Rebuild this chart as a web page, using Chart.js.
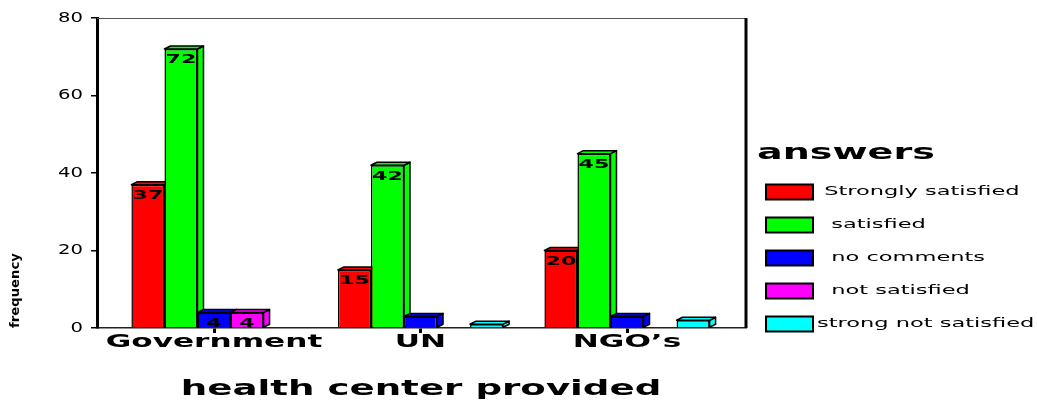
<!DOCTYPE html>
<html><head><meta charset="utf-8">
<script src="https://cdn.jsdelivr.net/npm/chart.js@4.4.0/dist/chart.umd.min.js"></script>
<style>html,body{margin:0;padding:0;background:#fff}#wrap{width:1037px;height:400px;position:relative}</style>
</head><body><div id="wrap"><canvas id="c"></canvas></div>
<script>
const categories = ["Government", "UN", "NGO\u2019s"];
const seriesNames = [" Strongly satisfied", "  satisfied", "  no comments", "  not satisfied", "strong not satisfied"];
const stronglySatisfied = [37, 15, 20];
const satisfied = [72, 42, 45];
const noComments = [4, 3, 3];
const notSatisfied = [4, 0, 0];
const strongNotSatisfied = [0, 1, 2];
const yTicks = [0, 20, 40, 60, 80];
const seriesColors = ["#ff0000", "#00ff00", "#0000ff", "#ff00ff", "#00ffff"];
const xTitle = "health center provided";
const yTitle = "frequency";
const legendTitle = "answers";
const labelMin = 4;

const seriesValues = [stronglySatisfied, satisfied, noComments, notSatisfied, strongNotSatisfied];

Chart.defaults.font.family = '"DejaVu Sans"';

function stretched(ctx, sx, fn) {
  const own = Object.prototype.hasOwnProperty.call(ctx, 'fillText');
  const orig = ctx.fillText;
  ctx.fillText = function (t, x, y) {
    this.save(); this.translate(x, y); this.scale(sx, 1); orig.call(this, t, 0, 0); this.restore();
  };
  try { fn(); } finally { if (own) ctx.fillText = orig; else delete ctx.fillText; }
}

const stretchPlugin = {
  id: 'stretch',
  afterLayout(chart) {
    const conf = { x: { labels: 1.73, title: 1.69 }, y: { labels: 1.4, title: 1.1 } };
    Object.keys(conf).forEach(id => {
      const s = chart.scales[id];
      if (!s || s.__stretched) return;
      const dl = s.drawLabels, dt = s.drawTitle;
      s.drawLabels = function (a) { stretched(this.ctx, conf[id].labels, () => dl.call(this, a)); };
      s.drawTitle = function () { stretched(this.ctx, conf[id].title, () => dt.call(this)); };
      s.__stretched = true;
    });
  }
};

const bar3d = {
  id: 'bar3d',
  beforeDatasetsDraw(chart) {
    const ctx = chart.ctx; const dx = 6, dy = 3;
    chart.data.datasets.forEach((ds, i) => {
      const meta = chart.getDatasetMeta(i);
      meta.data.forEach(el => {
        const { x, y, base, width } = el.getProps(['x', 'y', 'base', 'width'], true);
        if (Math.abs(base - y) < 0.5) return;
        const l = x - width / 2, r = x + width / 2;
        ctx.save();
        ctx.fillStyle = ds.backgroundColor; ctx.strokeStyle = '#000'; ctx.lineWidth = 1.5; ctx.lineJoin = 'round';
        ctx.beginPath(); ctx.moveTo(r, base); ctx.lineTo(r, y); ctx.lineTo(r + dx, y - dy); ctx.lineTo(r + dx, base - dy); ctx.closePath(); ctx.fill(); ctx.stroke();
        ctx.beginPath(); ctx.moveTo(l, y); ctx.lineTo(l + dx, y - dy); ctx.lineTo(r + dx, y - dy); ctx.lineTo(r, y); ctx.closePath(); ctx.fill(); ctx.stroke();
        ctx.restore();
      });
    });
  },
  afterDatasetsDraw(chart) {
    const ctx = chart.ctx;
    ctx.save();
    ctx.font = 'bold 13px "DejaVu Sans"'; ctx.fillStyle = '#000'; ctx.textAlign = 'center'; ctx.textBaseline = 'middle';
    stretched(ctx, 1.7, () => {
      chart.data.datasets.forEach((ds, i) => {
        chart.getDatasetMeta(i).data.forEach((el, j) => {
          const v = ds.data[j];
          if (v >= labelMin) ctx.fillText(String(v), el.x, el.y + 11);
        });
      });
    });
    ctx.restore();
  }
};

const framePlugin = {
  id: 'frame',
  afterDraw(chart) {
    const { ctx, chartArea: a } = chart;
    ctx.save();
    ctx.strokeStyle = '#555'; ctx.lineWidth = 1;
    ctx.beginPath(); ctx.moveTo(a.left, a.top + 0.5); ctx.lineTo(a.right, a.top + 0.5); ctx.stroke();
    ctx.strokeStyle = '#000'; ctx.lineWidth = 3;
    ctx.beginPath(); ctx.moveTo(a.right + 1, a.top); ctx.lineTo(a.right + 1, a.bottom); ctx.stroke();
    ctx.restore();
  }
};

const legendPlugin = {
  id: 'customLegend',
  afterDraw(chart) {
    const ctx = chart.ctx;
    ctx.save();
    ctx.fillStyle = '#000'; ctx.textAlign = 'left'; ctx.textBaseline = 'middle';
    ctx.font = 'bold 22px "DejaVu Sans"';
    stretched(ctx, 1.73, () => ctx.fillText(legendTitle, 757, 153));
    chart.data.datasets.forEach((ds, i) => {
      const cy = 192 + 33 * i;
      ctx.fillStyle = ds.backgroundColor; ctx.strokeStyle = '#000'; ctx.lineWidth = 2;
      ctx.fillRect(766, cy - 7.5, 47, 15); ctx.strokeRect(766, cy - 7.5, 47, 15);
      ctx.fillStyle = '#000'; ctx.font = '13px "DejaVu Sans"';
      stretched(ctx, 1.73, () => ctx.fillText(ds.label, 817, cy));
    });
    ctx.restore();
  }
};

new Chart(document.getElementById('c'), {
  type: 'bar',
  data: {
    labels: categories,
    datasets: seriesValues.map((vals, i) => ({
      label: seriesNames[i], data: vals, backgroundColor: seriesColors[i],
      borderColor: '#000', borderWidth: 1.5
    }))
  },
  options: {
    responsive: true, maintainAspectRatio: false, animation: false,
    layout: { padding: { top: 18, right: 292, bottom: 0, left: 0 } },
    datasets: { bar: { barPercentage: 1, categoryPercentage: 0.8 } },
    plugins: { legend: { display: false }, tooltip: { enabled: false } },
    scales: {
      x: {
        offset: true,
        afterBuildTicks: s => { s._startValue = -0.5666; s._valueRange = 3.138; },
        afterFit: s => { s.height = 72; },
        grid: { display: true, drawOnChartArea: false, drawTicks: true, tickLength: 5, lineWidth: 3, color: '#000', offset: false },
        border: { display: true, color: '#222', width: 1.5 },
        ticks: { autoSkip: false, maxRotation: 0, padding: 0, color: '#000', font: { size: 18, weight: 'bold', lineHeight: 1 } },
        title: { display: true, text: xTitle, color: '#000', padding: 0, font: { size: 22, weight: 'bold', lineHeight: 1 } }
      },
      y: {
        min: 0, max: 80,
        afterFit: s => { s.width = 97; },
        afterBuildTicks: s => { s.ticks = yTicks.map(v => ({ value: v })); },
        grid: { drawOnChartArea: false, drawTicks: true, tickLength: 6, lineWidth: 1.5, color: '#000' },
        border: { display: true, color: '#000', width: 3 },
        ticks: { padding: 8, color: '#000', font: { size: 14, lineHeight: 1 } },
        title: { display: true, text: yTitle, align: 'start', color: '#000', padding: { top: 10, bottom: 0 }, font: { size: 12, weight: 'bold', lineHeight: 1 } }
      }
    }
  },
  plugins: [stretchPlugin, bar3d, framePlugin, legendPlugin]
});
</script>
</body></html>
